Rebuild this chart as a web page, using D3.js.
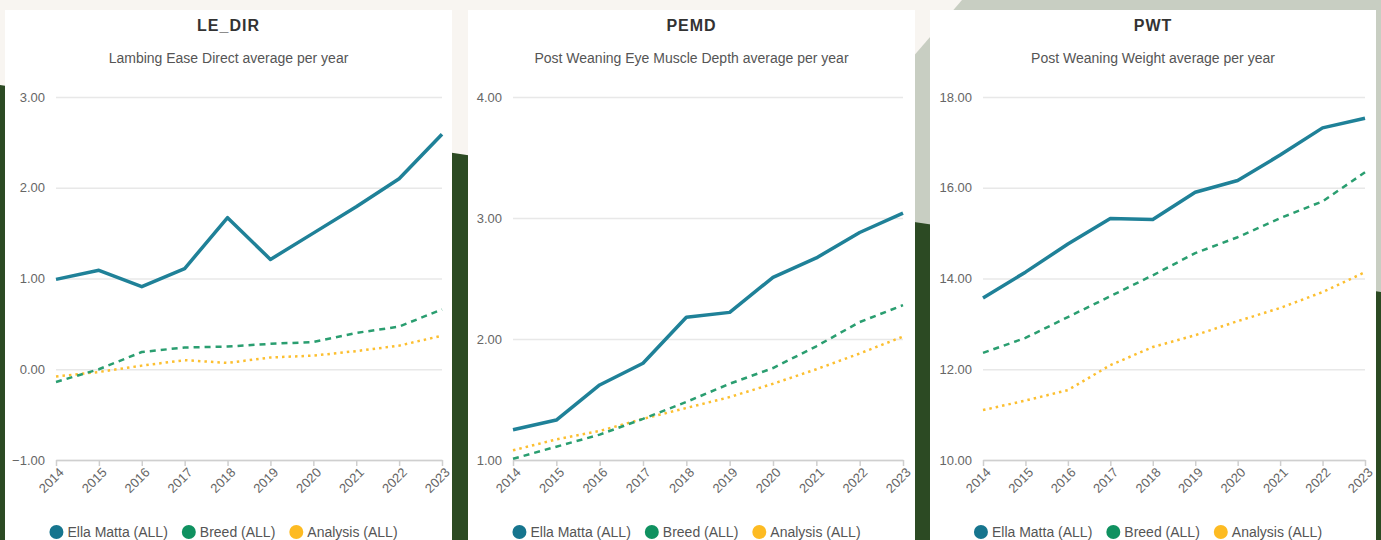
<!DOCTYPE html>
<html>
<head>
<meta charset="utf-8">
<script src="https://cdn.jsdelivr.net/npm/d3@7"></script>
<style>
  html, body { margin: 0; padding: 0; background: #f8f5f1; }
  svg { display: block; font-family: "Liberation Sans", Arial, sans-serif; }
</style>
</head>
<body>
<div id="chart"></div>
<script>
// --- data ---
var years = [2014, 2015, 2016, 2017, 2018, 2019, 2020, 2021, 2022, 2023];
var seriesNames = ["Ella Matta (ALL)", "Breed (ALL)", "Analysis (ALL)"];

var leDirElla = [0.99, 1.09, 0.91, 1.11, 1.67, 1.21, 1.50, 1.79, 2.10, 2.59];
var leDirBreed = [-0.14, 0.00, 0.19, 0.24, 0.25, 0.28, 0.30, 0.40, 0.47, 0.66];
var leDirAnalysis = [-0.08, -0.03, 0.04, 0.10, 0.07, 0.13, 0.15, 0.20, 0.26, 0.37];
var leDirTicks = [-1, 0, 1, 2, 3];

var pemdElla = [1.25, 1.33, 1.62, 1.80, 2.18, 2.22, 2.51, 2.67, 2.88, 3.04];
var pemdBreed = [1.01, 1.11, 1.21, 1.34, 1.48, 1.63, 1.76, 1.94, 2.14, 2.28];
var pemdAnalysis = [1.08, 1.17, 1.24, 1.34, 1.43, 1.52, 1.63, 1.75, 1.88, 2.02];
var pemdTicks = [1, 2, 3, 4];

var pwtElla = [13.57, 14.14, 14.76, 15.32, 15.30, 15.90, 16.16, 16.72, 17.32, 17.53];
var pwtBreed = [12.36, 12.69, 13.15, 13.61, 14.07, 14.56, 14.91, 15.33, 15.70, 16.34];
var pwtAnalysis = [11.10, 11.31, 11.54, 12.09, 12.49, 12.75, 13.06, 13.35, 13.70, 14.14];
var pwtTicks = [10, 12, 14, 16, 18];

var titles = ["LE_DIR", "PEMD", "PWT"];
var subtitles = [
  "Lambing Ease Direct average per year",
  "Post Weaning Eye Muscle Depth average per year",
  "Post Weaning Weight average per year"
];

// styles for the three series
var lineColors = ["#1f8198", "#2a9e70", "#fcbf30"];
var dotColors = ["#16758e", "#0f9160", "#fdbb22"];
var lineWidths = [3.5, 2.5, 2.5];
var dashes = [null, "6,5", "2.5,4"];

var W = 1381, H = 540;

var svg = d3
  .select("#chart")
  .append("svg")
  .attr("width", W)
  .attr("height", H);

// background shapes
svg.append("rect").attr("width", W).attr("height", H).attr("fill", "#f8f5f1");
svg
  .append("polygon")
  .attr("points", "962,0 1381,0 1381,300 905,300 905,66")
  .attr("fill", "#c8cec2");
svg
  .append("polygon")
  .attr("points", "0,85 1381,292 1381,540 0,540")
  .attr("fill", "#2c4a23");

var panels = [
  { left: 5, width: 447, ml: 51, mr: 10, ticks: leDirTicks, data: [leDirElla, leDirBreed, leDirAnalysis] },
  { left: 468, width: 447, ml: 45, mr: 12, ticks: pemdTicks, data: [pemdElla, pemdBreed, pemdAnalysis] },
  { left: 930, width: 446, ml: 53, mr: 11, ticks: pwtTicks, data: [pwtElla, pwtBreed, pwtAnalysis] }
];

var cardTop = 10, plotTop = 97, plotBottom = 460;

panels.forEach(function (p, i) {
  var g = svg.append("g").attr("transform", "translate(" + p.left + "," + cardTop + ")");

  g.append("rect")
    .attr("width", p.width)
    .attr("height", H)
    .attr("fill", "#ffffff");

  // title + subtitle
  g.append("text")
    .attr("x", p.width / 2)
    .attr("y", 21)
    .attr("text-anchor", "middle")
    .style("font-size", "16px")
    .style("font-weight", "bold")
    .style("letter-spacing", "1px")
    .attr("fill", "#333")
    .text(titles[i]);

  g.append("text")
    .attr("x", p.width / 2)
    .attr("y", 53)
    .attr("text-anchor", "middle")
    .style("font-size", "14px")
    .attr("fill", "#555")
    .text(subtitles[i]);

  var x = d3.scalePoint().domain(years).range([p.ml, p.width - p.mr]);
  var y = d3
    .scaleLinear()
    .domain(d3.extent(p.ticks))
    .range([plotBottom - cardTop, plotTop - cardTop]);

  // gridlines + y labels
  var yAxis = g
    .append("g")
    .attr("transform", "translate(" + p.ml + ",0)")
    .call(
      d3.axisLeft(y)
        .tickValues(p.ticks)
        .tickSize(-(p.width - p.mr - p.ml))
        .tickPadding(11)
        .tickFormat(d3.format(".2f"))
    );
  yAxis.select(".domain").remove();
  yAxis.selectAll("line").attr("stroke", "#e8e8e8").attr("stroke-width", 1.5);
  yAxis.selectAll("text")
    .attr("fill", "#666")
    .style("font-size", "13px")
    .style("font-family", "Liberation Sans, Arial, sans-serif");

  // x axis
  var xAxis = g
    .append("g")
    .attr("transform", "translate(0," + (plotBottom - cardTop) + ")")
    .call(d3.axisBottom(x).tickSize(6).tickSizeOuter(0));
  xAxis.select(".domain").attr("stroke", "#cfcfcf").attr("stroke-width", 1.5);
  xAxis.selectAll("line").attr("stroke", "#cfcfcf").attr("stroke-width", 1.5);
  xAxis.selectAll("text")
    .attr("fill", "#666")
    .style("font-size", "13px")
    .style("font-family", "Liberation Sans, Arial, sans-serif")
    .attr("text-anchor", "end")
    .attr("x", 0)
    .attr("y", 0)
    .attr("dy", "0.35em")
    .attr("transform", "translate(5,10) rotate(-45)");

  // lines, drawn back to front
  var line = d3
    .line()
    .x(function (d, k) { return x(years[k]); })
    .y(function (d) { return y(d); });

  [2, 1, 0].forEach(function (s) {
    g.append("path")
      .datum(p.data[s])
      .attr("d", line)
      .attr("fill", "none")
      .attr("stroke", lineColors[s])
      .attr("stroke-width", lineWidths[s])
      .attr("stroke-linejoin", "round")
      .attr("stroke-dasharray", dashes[s]);
  });

  // legend
  var leg = g.append("g");
  var cx = 0;
  seriesNames.forEach(function (name, s) {
    var item = leg.append("g").attr("transform", "translate(" + cx + ",0)");
    item.append("circle").attr("cx", 7).attr("cy", 0).attr("r", 7).attr("fill", dotColors[s]);
    var t = item.append("text")
      .attr("x", 18)
      .attr("y", 5)
      .style("font-size", "14px")
      .attr("fill", "#555")
      .text(name);
    cx += 18 + t.node().getComputedTextLength() + 14;
  });
  var legW = cx - 14;
  leg.attr("transform", "translate(" + (p.width / 2 - legW / 2 - 5) + "," + (532 - cardTop) + ")");
});
</script>
</body>
</html>
